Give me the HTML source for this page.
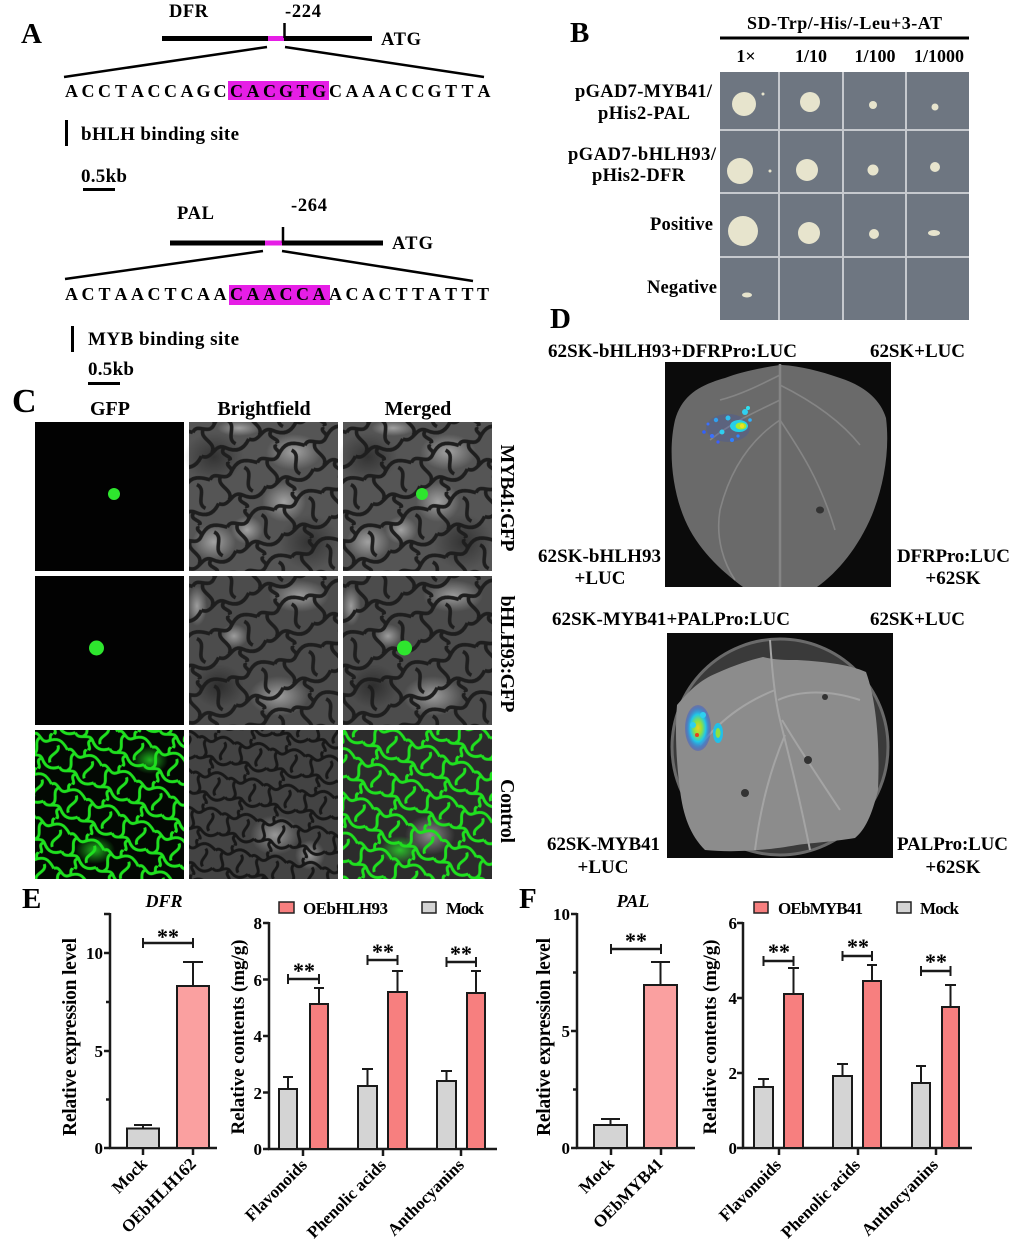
<!DOCTYPE html>
<html><head><meta charset="utf-8">
<style>
html,body{margin:0;padding:0;background:#fff;width:1024px;height:1252px;overflow:hidden}
svg{display:block}
text{font-family:"Liberation Serif","Times New Roman",serif;font-weight:bold;fill:#000}
</style></head><body>
<svg width="1024" height="1252" viewBox="0 0 1024 1252" xmlns="http://www.w3.org/2000/svg">
<defs>
<pattern id="gnet" width="36" height="36" patternUnits="userSpaceOnUse" patternTransform="rotate(25) scale(1.05)">
<path d="M0,8 C5,2 10,14 16,8 S27,1 36,8 M0,26 C6,32 12,20 18,26 S30,32 36,26 M8,8 C2,14 14,20 8,26 M26,8 C32,14 20,20 26,26 M17,26 C11,30 23,34 17,36 M17,0 C13,3 19,5 16,8" fill="none" stroke="#1fe01f" stroke-width="2.8"/>
</pattern>
<pattern id="dnet" width="36" height="36" patternUnits="userSpaceOnUse" patternTransform="rotate(-20) scale(1.4)">
<path d="M0,8 C5,2 10,14 16,8 S27,1 36,8 M0,26 C6,32 12,20 18,26 S30,32 36,26 M8,8 C2,14 14,20 8,26 M26,8 C32,14 20,20 26,26 M17,26 C11,30 23,34 17,36 M17,0 C13,3 19,5 16,8" fill="none" stroke="#1e1e1e" stroke-width="2.6"/>
</pattern>
<pattern id="dnet2" width="36" height="36" patternUnits="userSpaceOnUse" patternTransform="rotate(10)">
<path d="M0,8 C5,2 10,14 16,8 S27,1 36,8 M0,26 C6,32 12,20 18,26 S30,32 36,26 M8,8 C2,14 14,20 8,26 M26,8 C32,14 20,20 26,26 M17,26 C11,30 23,34 17,36 M17,0 C13,3 19,5 16,8" fill="none" stroke="#181818" stroke-width="3"/>
</pattern>
<radialGradient id="hl"><stop offset="0" stop-color="#fff" stop-opacity="0.45"/><stop offset="1" stop-color="#fff" stop-opacity="0"/></radialGradient>
<radialGradient id="dk"><stop offset="0" stop-color="#000" stop-opacity="0.4"/><stop offset="1" stop-color="#000" stop-opacity="0"/></radialGradient>
<radialGradient id="gg"><stop offset="0" stop-color="#2aff2a" stop-opacity="0.7"/><stop offset="1" stop-color="#2aff2a" stop-opacity="0"/></radialGradient>
<radialGradient id="lum2" cx="0.5" cy="0.5" r="0.5">
<stop offset="0" stop-color="#f0d020"/><stop offset="0.3" stop-color="#90e040"/><stop offset="0.6" stop-color="#20c8e8"/><stop offset="1" stop-color="#2040e0" stop-opacity="0.3"/>
</radialGradient>
<g id="bfA">
<rect width="149" height="149" fill="#555"/>
<ellipse cx="25" cy="35" rx="30" ry="25" fill="url(#dk)"/>
<ellipse cx="120" cy="120" rx="30" ry="28" fill="url(#dk)"/>
<ellipse cx="58" cy="108" rx="16" ry="14" fill="url(#hl)"/>
<ellipse cx="50" cy="6" rx="22" ry="8" fill="url(#hl)"/>
<ellipse cx="25" cy="120" rx="22" ry="18" fill="url(#hl)"/>
<ellipse cx="105" cy="30" rx="28" ry="18" fill="url(#hl)"/>
<ellipse cx="95" cy="80" rx="22" ry="20" fill="url(#hl)"/>
<rect width="149" height="149" fill="url(#dnet)"/>
</g>
<g id="bfB">
<rect width="149" height="149" fill="#4c4c4c"/>
<ellipse cx="8" cy="30" rx="10" ry="20" fill="url(#hl)"/>
<ellipse cx="45" cy="60" rx="14" ry="12" fill="url(#hl)"/>
<ellipse cx="110" cy="20" rx="30" ry="16" fill="url(#hl)"/>
<ellipse cx="90" cy="120" rx="30" ry="20" fill="url(#hl)"/>
<ellipse cx="30" cy="110" rx="25" ry="22" fill="url(#dk)"/>
<rect width="149" height="149" fill="url(#dnet)"/>
</g>
</defs>

<!-- ============ Panel A ============ -->
<text x="21" y="43" font-size="29">A</text>
<text x="169" y="17" font-size="18.5" textLength="39">DFR</text>
<text x="285" y="17" font-size="18.5" textLength="36">-224</text>
<line x1="162" y1="38.5" x2="372" y2="38.5" stroke="#000" stroke-width="5"/>
<rect x="268" y="36" width="16" height="5" fill="#e61ee6"/>
<line x1="284.5" y1="23" x2="284.5" y2="38" stroke="#000" stroke-width="2.5"/>
<text x="381" y="45" font-size="18.5" textLength="40">ATG</text>
<line x1="267" y1="47" x2="64" y2="77" stroke="#000" stroke-width="2.5"/>
<line x1="285" y1="47" x2="484" y2="77" stroke="#000" stroke-width="2.5"/>
<rect x="228" y="81" width="101" height="19" fill="#e61ee6"/>
<text y="97" font-size="18" text-anchor="middle" x="71.5 88 104.5 121 137.5 154 170.5 187 203.5 220 236.5 253 269.5 286 302.5 319 335.5 352 368.5 385 401.5 418 434.5 451 467.5 484">ACCTACCAGCCACGTGCAAACCGTTA</text>
<line x1="66.5" y1="120" x2="66.5" y2="146" stroke="#000" stroke-width="3"/>
<text x="81" y="140" font-size="19" textLength="158">bHLH binding site</text>
<text x="81" y="182" font-size="19" textLength="46">0.5kb</text>
<line x1="83" y1="189.5" x2="115" y2="189.5" stroke="#000" stroke-width="3"/>

<text x="177" y="219" font-size="18.5" textLength="37">PAL</text>
<text x="291" y="211" font-size="18.5" textLength="36">-264</text>
<line x1="170" y1="243" x2="383" y2="243" stroke="#000" stroke-width="5"/>
<rect x="265" y="240.5" width="17" height="5" fill="#e61ee6"/>
<line x1="283" y1="227" x2="283" y2="243" stroke="#000" stroke-width="2.5"/>
<text x="392" y="249" font-size="18.5" textLength="41">ATG</text>
<line x1="263" y1="251" x2="65" y2="279" stroke="#000" stroke-width="2.5"/>
<line x1="282" y1="251" x2="473" y2="281" stroke="#000" stroke-width="2.5"/>
<rect x="229" y="285" width="101" height="20" fill="#e61ee6"/>
<text y="300" font-size="18" text-anchor="middle" x="71.5 88 104.5 121 137.5 154 170.5 187 203.5 220 236.5 253 269.5 286 302.5 319 335.5 352 368.5 385 401.5 418 434.5 451 467.5 483">ACTAACTCAACAACCAACACTTATTT</text>
<line x1="72.5" y1="326" x2="72.5" y2="352" stroke="#000" stroke-width="3"/>
<text x="88" y="345" font-size="19" textLength="151">MYB binding site</text>
<text x="88" y="375" font-size="19" textLength="46">0.5kb</text>
<line x1="88" y1="383.5" x2="120" y2="383.5" stroke="#000" stroke-width="3"/>

<!-- ============ Panel B ============ -->
<text x="570" y="42" font-size="29">B</text>
<text x="747" y="29" font-size="18" textLength="195">SD-Trp/-His/-Leu+3-AT</text>
<line x1="720" y1="38" x2="969" y2="38" stroke="#000" stroke-width="3"/>
<text x="746" y="62" font-size="18" text-anchor="middle">1×</text>
<text x="811" y="62" font-size="18" text-anchor="middle">1/10</text>
<text x="875" y="62" font-size="18" text-anchor="middle">1/100</text>
<text x="939" y="62" font-size="18" text-anchor="middle">1/1000</text>
<text x="575" y="97" font-size="18.5" textLength="137">pGAD7-MYB41/</text>
<text x="598" y="119" font-size="18.5" textLength="92">pHis2-PAL</text>
<text x="568" y="160" font-size="18.5" textLength="148">pGAD7-bHLH93/</text>
<text x="592" y="181" font-size="18.5" textLength="93">pHis2-DFR</text>
<text x="650" y="230" font-size="18.5" textLength="63">Positive</text>
<text x="647" y="293" font-size="18.5" textLength="70">Negative</text>
<rect x="720" y="72" width="249" height="248" fill="#6e7681"/>
<g stroke="#c6c9ce" stroke-width="2">
<line x1="779" y1="72" x2="779" y2="320"/><line x1="843" y1="72" x2="843" y2="320"/><line x1="906" y1="72" x2="906" y2="320"/>
<line x1="720" y1="130" x2="969" y2="130"/><line x1="720" y1="193" x2="969" y2="193"/><line x1="720" y1="257" x2="969" y2="257"/>
</g>
<g fill="#e7e4cd">
<circle cx="744" cy="104" r="12"/><circle cx="763" cy="94" r="1.5"/>
<circle cx="810" cy="102" r="10"/>
<circle cx="873" cy="105" r="4"/>
<circle cx="935" cy="107" r="3.5"/>
<circle cx="740" cy="171" r="13"/><circle cx="770" cy="171" r="1.5"/>
<circle cx="807" cy="170" r="11"/>
<circle cx="873" cy="170" r="5.5"/>
<circle cx="935" cy="167" r="5"/>
<circle cx="743" cy="231" r="15"/>
<circle cx="809" cy="233" r="11"/>
<circle cx="874" cy="234" r="5"/>
<ellipse cx="934" cy="233" rx="6" ry="3"/>
<ellipse cx="747" cy="295" rx="5" ry="2.5"/>
</g>

<!-- ============ Panel C ============ -->
<text x="12" y="412" font-size="34">C</text>
<text x="110" y="415" font-size="20" text-anchor="middle">GFP</text>
<text x="264" y="415" font-size="20" text-anchor="middle">Brightfield</text>
<text x="418" y="415" font-size="20" text-anchor="middle">Merged</text>
<rect x="35" y="422" width="149" height="149" fill="#020202"/>
<circle cx="114" cy="494" r="6" fill="#2ee62e"/>
<use href="#bfA" x="189" y="422"/>
<use href="#bfA" x="343" y="422"/>
<circle cx="422" cy="494" r="6" fill="#2ee62e"/>
<rect x="35" y="576" width="149" height="149" fill="#020202"/>
<circle cx="96.5" cy="648" r="7.5" fill="#2ee62e"/>
<use href="#bfB" x="189" y="576"/>
<use href="#bfB" x="343" y="576"/>
<circle cx="404.5" cy="648" r="7.5" fill="#2ee62e"/>
<rect x="35" y="730" width="149" height="149" fill="#030803"/>
<ellipse cx="95" cy="850" rx="20" ry="14" fill="url(#gg)"/>
<ellipse cx="150" cy="760" rx="18" ry="14" fill="url(#gg)"/>
<rect x="35" y="730" width="149" height="149" fill="url(#gnet)"/>
<rect x="189" y="730" width="149" height="149" fill="#434343"/>
<ellipse cx="275" cy="835" rx="25" ry="20" fill="url(#hl)"/>
<ellipse cx="310" cy="855" rx="15" ry="15" fill="url(#hl)"/>
<rect x="189" y="730" width="149" height="149" fill="url(#dnet2)"/>
<rect x="343" y="730" width="149" height="149" fill="#2c2c2c"/>
<ellipse cx="430" cy="835" rx="25" ry="20" fill="url(#hl)"/>
<ellipse cx="400" cy="850" rx="20" ry="14" fill="url(#gg)"/>
<rect x="343" y="730" width="149" height="149" fill="url(#gnet)"/>
<text transform="translate(501,498) rotate(90)" font-size="20" text-anchor="middle" textLength="107">MYB41:GFP</text>
<text transform="translate(501,654) rotate(90)" font-size="20" text-anchor="middle" textLength="117">bHLH93:GFP</text>
<text transform="translate(501,811) rotate(90)" font-size="20" text-anchor="middle" textLength="64">Control</text>

<!-- ============ Panel D ============ -->
<text x="550" y="328" font-size="29">D</text>
<text x="548" y="357" font-size="19" textLength="249">62SK-bHLH93+DFRPro:LUC</text>
<text x="870" y="357" font-size="19" textLength="95">62SK+LUC</text>
<rect x="665" y="362" width="226" height="225" fill="#0b0b0b"/>
<path d="M780,365 C760,368 740,372 725,378 C700,385 682,395 675,420 C668,450 672,490 685,520 C697,548 720,570 743,587 L817,587 C838,572 858,548 872,515 C884,485 890,450 886,418 C880,398 862,385 840,378 C820,371 800,366 782,365 Z" fill="#6a6a6a"/>
<g stroke="#858585" stroke-width="1.6" fill="none">
<line x1="780" y1="364" x2="780" y2="587" stroke-width="2.5"/>
<path d="M780,400 C760,410 735,420 710,440"/>
<path d="M780,420 C750,440 730,470 720,510 C715,540 725,565 735,580"/>
<path d="M780,385 C810,400 840,420 860,445"/>
<path d="M780,420 C800,450 820,480 835,530"/>
<path d="M780,375 C760,385 740,395 720,400"/>
</g>
<ellipse cx="820" cy="510" rx="4" ry="3.5" fill="#333"/>
<g>
<ellipse cx="728" cy="428" rx="22" ry="14" fill="#2a4ad0" opacity="0.2"/>
<circle cx="704" cy="432" r="1.8" fill="#3060ff"/><circle cx="708" cy="424" r="1.5" fill="#3a70ff"/>
<circle cx="712" cy="436" r="2" fill="#3a70ff"/><circle cx="716" cy="420" r="2.2" fill="#30a0f0"/>
<circle cx="722" cy="432" r="2.5" fill="#2fd0f0"/><circle cx="718" cy="442" r="1.6" fill="#3a60ff"/>
<circle cx="728" cy="418" r="2.5" fill="#2fc0f0"/><circle cx="745" cy="412" r="3" fill="#30d0f0"/>
<circle cx="748" cy="408" r="2" fill="#2fe0f0"/><circle cx="732" cy="440" r="2" fill="#3080ff"/>
<circle cx="738" cy="436" r="1.6" fill="#3080ff"/><circle cx="750" cy="420" r="1.8" fill="#30b0ff"/>
<ellipse cx="739" cy="426" rx="9" ry="6" fill="#24d0e8"/>
<ellipse cx="741" cy="426" rx="5.5" ry="3.5" fill="#a8e830"/>
<circle cx="742" cy="426" r="2.2" fill="#f0e020"/>
</g>

<text x="552" y="625" font-size="19" textLength="238">62SK-MYB41+PALPro:LUC</text>
<text x="870" y="625" font-size="19" textLength="95">62SK+LUC</text>
<rect x="667" y="633" width="226" height="225" fill="#0b0b0b"/>
<circle cx="780" cy="747" r="108" fill="#3a3a3a" stroke="#6a6a6a" stroke-width="3"/>
<path d="M677,705 C690,690 700,680 717,673 C735,665 750,660 763,657 C775,660 785,660 797,660 C830,662 850,665 866,672 C876,700 880,740 878,790 C872,815 865,830 855,838 C830,842 810,843 797,845 C770,850 735,853 705,850 C690,835 683,815 680,790 C676,760 675,730 677,705 Z" fill="#8c8c8c"/>
<g stroke="#a4a4a4" stroke-width="2" fill="none">
<path d="M770,640 C772,670 775,700 780,720 C790,760 800,800 810,850"/>
<path d="M775,690 C750,700 725,715 700,745"/>
<path d="M778,700 C800,690 830,690 860,700"/>
<path d="M782,720 C800,750 820,780 840,810"/>
<path d="M785,735 C770,770 760,810 755,850"/>
</g>
<ellipse cx="825" cy="697" rx="3" ry="3" fill="#333"/>
<ellipse cx="808" cy="760" rx="4" ry="4" fill="#333"/>
<ellipse cx="745" cy="793" rx="4" ry="4" fill="#333"/>
<ellipse cx="698" cy="728" rx="13" ry="23" fill="url(#lum2)"/>
<circle cx="693" cy="725" r="3" fill="#2fd0f0"/><circle cx="703" cy="715" r="3" fill="#2fd0f0"/>
<circle cx="697" cy="735" r="2" fill="#e84020"/>
<ellipse cx="718" cy="733" rx="5" ry="10" fill="#22c0e8"/>
<ellipse cx="718" cy="733" rx="2.5" ry="5" fill="#90e040"/>
<text x="538" y="562" font-size="19" textLength="123">62SK-bHLH93</text>
<text x="600" y="584" font-size="19" text-anchor="middle">+LUC</text>
<text x="897" y="562" font-size="19" textLength="113">DFRPro:LUC</text>
<text x="953" y="584" font-size="19" text-anchor="middle">+62SK</text>
<text x="547" y="850" font-size="19" textLength="113">62SK-MYB41</text>
<text x="603" y="873" font-size="19" text-anchor="middle">+LUC</text>
<text x="897" y="850" font-size="19" textLength="111">PALPro:LUC</text>
<text x="953" y="873" font-size="19" text-anchor="middle">+62SK</text>

<!-- ============ Panel E ============ -->
<text x="22" y="908" font-size="29">E</text>
<text x="164" y="907" font-size="18" font-style="italic" text-anchor="middle">DFR</text>
<g stroke="#1a1a1a" stroke-width="2.5" fill="none">
<line x1="110" y1="913" x2="110" y2="1149"/>
<line x1="109" y1="1148" x2="217" y2="1148"/>
<line x1="104" y1="914" x2="110" y2="914"/>
<line x1="104" y1="953" x2="110" y2="953"/>
<line x1="106" y1="1002" x2="110" y2="1002"/>
<line x1="104" y1="1051" x2="110" y2="1051"/>
<line x1="106" y1="1099.5" x2="110" y2="1099.5"/>
<line x1="104" y1="1148" x2="110" y2="1148"/>
<line x1="143" y1="1148" x2="143" y2="1155"/>
<line x1="193" y1="1148" x2="193" y2="1155"/>
</g>
<text x="103" y="959" font-size="17" text-anchor="end">10</text>
<text x="103" y="1057" font-size="17" text-anchor="end">5</text>
<text x="103" y="1154" font-size="17" text-anchor="end">0</text>
<g stroke="#1a1a1a" stroke-width="2">
<line x1="143" y1="1128" x2="143" y2="1125"/><line x1="134" y1="1125" x2="152" y2="1125"/>
<line x1="193" y1="986" x2="193" y2="962"/><line x1="183" y1="962" x2="203" y2="962"/>
<rect x="127" y="1128.5" width="32" height="19.5" fill="#d4d4d4"/>
<rect x="177" y="986" width="32" height="162" fill="#faa0a0"/>
<line x1="143" y1="943" x2="193" y2="943" stroke-width="2.5"/>
<line x1="143" y1="938" x2="143" y2="948"/><line x1="193" y1="938" x2="193" y2="948"/>
</g>
<text x="168" y="944" font-size="22" text-anchor="middle">**</text>
<text transform="translate(76,1037) rotate(-90)" font-size="19.5" text-anchor="middle" textLength="198">Relative expression level</text>
<text transform="translate(148,1165) rotate(-45)" font-size="17" text-anchor="end">Mock</text>
<text transform="translate(197,1165) rotate(-45)" font-size="17" text-anchor="end">OEbHLH162</text>

<rect x="279" y="902" width="15" height="11" fill="#f77f7f" stroke="#222" stroke-width="1.5"/>
<text x="303" y="914" font-size="17" textLength="85">OEbHLH93</text>
<rect x="422" y="902" width="14" height="11" fill="#d4d4d4" stroke="#222" stroke-width="1.5"/>
<text x="446" y="914" font-size="17" textLength="38">Mock</text>
<g stroke="#1a1a1a" stroke-width="2.5" fill="none">
<line x1="269" y1="922" x2="269" y2="1150"/>
<line x1="268" y1="1149" x2="497" y2="1149"/>
<line x1="263" y1="923" x2="269" y2="923"/>
<line x1="263" y1="979.5" x2="269" y2="979.5"/>
<line x1="263" y1="1036" x2="269" y2="1036"/>
<line x1="263" y1="1092.5" x2="269" y2="1092.5"/>
<line x1="263" y1="1149" x2="269" y2="1149"/>
<line x1="303" y1="1149" x2="303" y2="1156"/>
<line x1="383" y1="1149" x2="383" y2="1156"/>
<line x1="461" y1="1149" x2="461" y2="1156"/>
</g>
<text x="262" y="929" font-size="17" text-anchor="end">8</text>
<text x="262" y="986" font-size="17" text-anchor="end">6</text>
<text x="262" y="1042" font-size="17" text-anchor="end">4</text>
<text x="262" y="1099" font-size="17" text-anchor="end">2</text>
<text x="262" y="1155" font-size="17" text-anchor="end">0</text>
<g stroke="#1a1a1a" stroke-width="2">
<line x1="288" y1="1089" x2="288" y2="1077"/><line x1="283" y1="1077" x2="293" y2="1077"/>
<line x1="319" y1="1004" x2="319" y2="988"/><line x1="314" y1="988" x2="324" y2="988"/>
<line x1="367.5" y1="1086" x2="367.5" y2="1069"/><line x1="362" y1="1069" x2="373" y2="1069"/>
<line x1="397.5" y1="992" x2="397.5" y2="971"/><line x1="392" y1="971" x2="403" y2="971"/>
<line x1="446.5" y1="1081" x2="446.5" y2="1071"/><line x1="441" y1="1071" x2="452" y2="1071"/>
<line x1="476" y1="993" x2="476" y2="971"/><line x1="471" y1="971" x2="481" y2="971"/>
<rect x="279" y="1089" width="18" height="60" fill="#d4d4d4"/>
<rect x="310" y="1004" width="18" height="145" fill="#f77f7f"/>
<rect x="358" y="1086" width="19" height="63" fill="#d4d4d4"/>
<rect x="388" y="992" width="19" height="157" fill="#f77f7f"/>
<rect x="437" y="1081" width="19" height="68" fill="#d4d4d4"/>
<rect x="467" y="993" width="18" height="156" fill="#f77f7f"/>
<line x1="288" y1="979" x2="319" y2="979" stroke-width="2.5"/><line x1="288" y1="974" x2="288" y2="984"/><line x1="319" y1="974" x2="319" y2="984"/>
<line x1="367.5" y1="960" x2="397.5" y2="960" stroke-width="2.5"/><line x1="367.5" y1="955" x2="367.5" y2="965"/><line x1="397.5" y1="955" x2="397.5" y2="965"/>
<line x1="446.5" y1="962" x2="476" y2="962" stroke-width="2.5"/><line x1="446.5" y1="957" x2="446.5" y2="967"/><line x1="476" y1="957" x2="476" y2="967"/>
</g>
<text x="304" y="978" font-size="22" text-anchor="middle">**</text>
<text x="383" y="959" font-size="22" text-anchor="middle">**</text>
<text x="461" y="961" font-size="22" text-anchor="middle">**</text>
<text transform="translate(244,1037) rotate(-90)" font-size="19" text-anchor="middle" textLength="195">Relative contents (mg/g)</text>
<text transform="translate(308,1166) rotate(-45)" font-size="17" text-anchor="end">Flavonoids</text>
<text transform="translate(387,1166) rotate(-45)" font-size="17" text-anchor="end">Phenolic acids</text>
<text transform="translate(465,1166) rotate(-45)" font-size="17" text-anchor="end">Anthocyanins</text>

<!-- ============ Panel F ============ -->
<text x="519" y="908" font-size="29">F</text>
<text x="633" y="907" font-size="18" font-style="italic" text-anchor="middle">PAL</text>
<g stroke="#1a1a1a" stroke-width="2.5" fill="none">
<line x1="577" y1="913" x2="577" y2="1149"/>
<line x1="576" y1="1148" x2="695" y2="1148"/>
<line x1="571" y1="914" x2="577" y2="914"/>
<line x1="573" y1="972.5" x2="577" y2="972.5"/>
<line x1="571" y1="1031" x2="577" y2="1031"/>
<line x1="573" y1="1089.5" x2="577" y2="1089.5"/>
<line x1="571" y1="1148" x2="577" y2="1148"/>
<line x1="611" y1="1148" x2="611" y2="1155"/>
<line x1="661" y1="1148" x2="661" y2="1155"/>
</g>
<text x="570" y="920" font-size="17" text-anchor="end">10</text>
<text x="570" y="1037" font-size="17" text-anchor="end">5</text>
<text x="570" y="1154" font-size="17" text-anchor="end">0</text>
<g stroke="#1a1a1a" stroke-width="2">
<line x1="610.5" y1="1125" x2="610.5" y2="1119"/><line x1="601" y1="1119" x2="620" y2="1119"/>
<line x1="660.5" y1="985" x2="660.5" y2="962"/><line x1="651" y1="962" x2="670" y2="962"/>
<rect x="594" y="1125" width="33" height="23" fill="#d4d4d4"/>
<rect x="644" y="985" width="33" height="163" fill="#faa0a0"/>
<line x1="611" y1="949" x2="661" y2="949" stroke-width="2.5"/>
<line x1="611" y1="944" x2="611" y2="954"/><line x1="661" y1="944" x2="661" y2="954"/>
</g>
<text x="636" y="948" font-size="22" text-anchor="middle">**</text>
<text transform="translate(550,1037) rotate(-90)" font-size="19.5" text-anchor="middle" textLength="198">Relative expression level</text>
<text transform="translate(615,1165) rotate(-45)" font-size="17" text-anchor="end">Mock</text>
<text transform="translate(664,1165) rotate(-45)" font-size="17" text-anchor="end">OEbMYB41</text>

<rect x="754" y="902" width="14" height="11" fill="#f77f7f" stroke="#222" stroke-width="1.5"/>
<text x="778" y="914" font-size="17" textLength="85">OEbMYB41</text>
<rect x="897" y="902" width="14" height="11" fill="#d4d4d4" stroke="#222" stroke-width="1.5"/>
<text x="920" y="914" font-size="17" textLength="39">Mock</text>
<g stroke="#1a1a1a" stroke-width="2.5" fill="none">
<line x1="743" y1="922" x2="743" y2="1149"/>
<line x1="742" y1="1148" x2="972" y2="1148"/>
<line x1="737" y1="923" x2="743" y2="923"/>
<line x1="737" y1="998" x2="743" y2="998"/>
<line x1="737" y1="1073" x2="743" y2="1073"/>
<line x1="737" y1="1148" x2="743" y2="1148"/>
<line x1="779" y1="1148" x2="779" y2="1155"/>
<line x1="858" y1="1148" x2="858" y2="1155"/>
<line x1="936" y1="1148" x2="936" y2="1155"/>
</g>
<text x="737" y="929" font-size="17" text-anchor="end">6</text>
<text x="737" y="1004" font-size="17" text-anchor="end">4</text>
<text x="737" y="1079" font-size="17" text-anchor="end">2</text>
<text x="737" y="1154" font-size="17" text-anchor="end">0</text>
<g stroke="#1a1a1a" stroke-width="2">
<line x1="763.5" y1="1087" x2="763.5" y2="1079"/><line x1="758" y1="1079" x2="769" y2="1079"/>
<line x1="793.5" y1="994" x2="793.5" y2="968"/><line x1="788" y1="968" x2="799" y2="968"/>
<line x1="842.5" y1="1076" x2="842.5" y2="1064"/><line x1="837" y1="1064" x2="848" y2="1064"/>
<line x1="872" y1="981" x2="872" y2="965"/><line x1="867" y1="965" x2="877" y2="965"/>
<line x1="921" y1="1083" x2="921" y2="1066"/><line x1="916" y1="1066" x2="926" y2="1066"/>
<line x1="950.5" y1="1007" x2="950.5" y2="985"/><line x1="945" y1="985" x2="956" y2="985"/>
<rect x="754" y="1087" width="19" height="61" fill="#d4d4d4"/>
<rect x="784" y="994" width="19" height="154" fill="#f77f7f"/>
<rect x="833" y="1076" width="19" height="72" fill="#d4d4d4"/>
<rect x="863" y="981" width="18" height="167" fill="#f77f7f"/>
<rect x="912" y="1083" width="18" height="65" fill="#d4d4d4"/>
<rect x="942" y="1007" width="17" height="141" fill="#f77f7f"/>
<line x1="763.5" y1="961" x2="793.5" y2="961" stroke-width="2.5"/><line x1="763.5" y1="956" x2="763.5" y2="966"/><line x1="793.5" y1="956" x2="793.5" y2="966"/>
<line x1="842.5" y1="956" x2="872" y2="956" stroke-width="2.5"/><line x1="842.5" y1="951" x2="842.5" y2="961"/><line x1="872" y1="951" x2="872" y2="961"/>
<line x1="921" y1="971" x2="950.5" y2="971" stroke-width="2.5"/><line x1="921" y1="966" x2="921" y2="976"/><line x1="950.5" y1="966" x2="950.5" y2="976"/>
</g>
<text x="779" y="959" font-size="22" text-anchor="middle">**</text>
<text x="858" y="954" font-size="22" text-anchor="middle">**</text>
<text x="936" y="969" font-size="22" text-anchor="middle">**</text>
<text transform="translate(716,1037) rotate(-90)" font-size="19" text-anchor="middle" textLength="195">Relative contents (mg/g)</text>
<text transform="translate(782,1166) rotate(-45)" font-size="17" text-anchor="end">Flavonoids</text>
<text transform="translate(861,1166) rotate(-45)" font-size="17" text-anchor="end">Phenolic acids</text>
<text transform="translate(939,1166) rotate(-45)" font-size="17" text-anchor="end">Anthocyanins</text>
</svg>
</body></html>
